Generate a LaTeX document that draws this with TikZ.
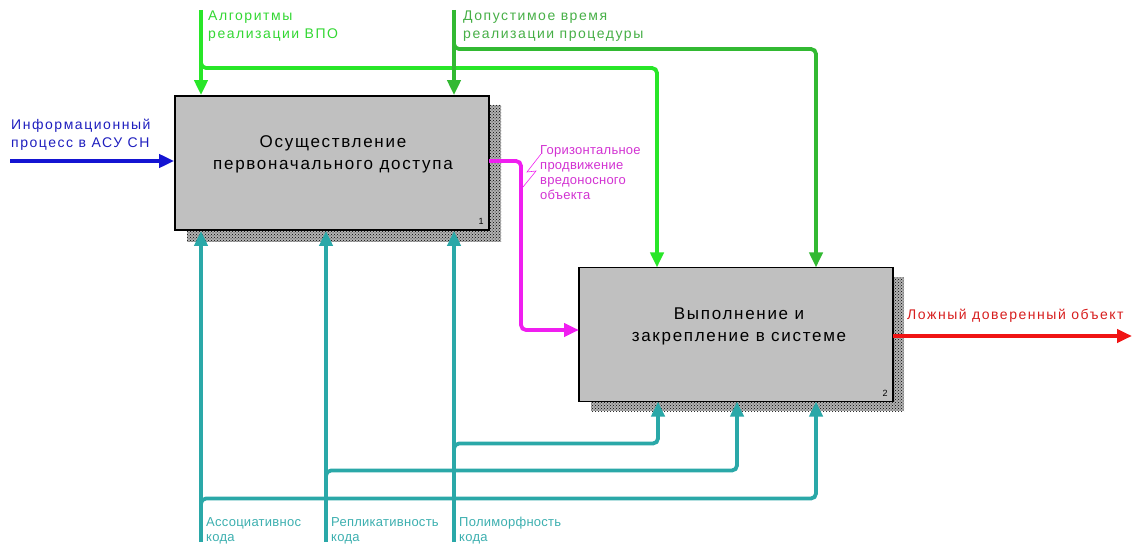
\documentclass[tikz,border=0pt]{standalone}
\usepackage{fontspec}
\setmainfont{Liberation Sans}
\newfontfamily\boxfont[LetterSpace=10]{Liberation Sans}
\newfontfamily\lblfont[LetterSpace=11]{Liberation Sans}
\newfontfamily\smallfont[LetterSpace=2]{Liberation Sans}
\usetikzlibrary{arrows.meta,patterns}
\definecolor{cgreenA}{RGB}{40,230,40}
\definecolor{cgreenB}{RGB}{50,185,50}
\definecolor{tgreenA}{RGB}{50,215,50}
\definecolor{tgreenB}{RGB}{70,175,70}
\definecolor{cteal}{RGB}{42,168,168}
\definecolor{tteal}{RGB}{60,175,175}
\definecolor{cblue}{RGB}{20,20,210}
\definecolor{tblue}{RGB}{30,30,190}
\definecolor{cmag}{RGB}{240,30,240}
\definecolor{tmag}{RGB}{210,50,210}
\definecolor{cred}{RGB}{240,20,20}
\definecolor{tred}{RGB}{215,30,30}
\definecolor{boxgray}{RGB}{192,192,192}
\tikzset{
  tip/.style={-{Triangle[length=15pt,width=13pt]}},
  actbox/.style={draw=black, line width=1.6pt, fill=boxgray, minimum width=314pt, minimum height=134pt, inner sep=0pt},
  conn/.style={line width=3.8pt, rounded corners=5pt, tip},
  plain/.style={line width=3.8pt, rounded corners=5pt},
  lbl/.style={anchor=west, inner sep=0pt, font=\lblfont\fontsize{14}{18}\selectfont, align=left},
  slbl/.style={anchor=west, inner sep=0pt, font=\smallfont\fontsize{13}{15}\selectfont, align=left},
  boxtxt/.style={inner sep=0pt, font=\boxfont\fontsize{17}{22}\selectfont, align=center},
  numtxt/.style={inner sep=0pt, font=\fontsize{9}{10}\selectfont},
  shadowfill/.style={pattern=crosshatch dots, pattern color=black}
}
\begin{document}
\begin{tikzpicture}[x=1pt,y=-1pt]
\useasboundingbox (0,0) rectangle (1134,545);
% shadows
\fill[black!30] (187,105) rectangle (501,242);
\fill[shadowfill] (187,105) rectangle (501,242);
\fill[black!30] (591,277) rectangle (904,411);
\fill[shadowfill] (591,277) rectangle (904,411);
% boxes
\node[actbox] (b1) at (332,163) {};
\node[actbox] (b2) at (736,334.5) {};
\node[boxtxt] (t1) at (333,154) {Осуществление\\первоначального доступа};
\node[boxtxt] (t2) at (739,326) {Выполнение и\\закрепление в системе};
\node[numtxt] (n1) at (481,221) {1};
\node[numtxt] (n2) at (885,393) {2};
% free-end coordinates
\coordinate (gA) at (201,10);
\coordinate (gB) at (454,10);
\coordinate (bl) at (10,161);
\coordinate (rd) at (1132,336);
\coordinate (tA) at (201,542);
\coordinate (tR) at (326,542);
\coordinate (tP) at (454,542);
% green controls
\draw[conn, cgreenA] (gA) -- (gA |- b1.north);
\draw[plain, cgreenA, tip] (201,58) |- (657,68) -- (657,267.5);
\draw[conn, cgreenB] (gB) -- (gB |- b1.north);
\draw[plain, cgreenB, tip] (454,40) |- (816,49) -- (816,267.5);
\node[lbl, tgreenA] (lA) at (208,26.5) {Алгоритмы\\реализации ВПО};
\node[lbl, tgreenB] (lB) at (463,26.5) {Допустимое время\\реализации процедуры};
% input
\draw[conn, cblue] (bl) -- (bl -| b1.west);
\node[lbl, tblue] (lbl1) at (11,134.5) {Информационный\\процесс в АСУ СН};
% magenta
\draw[conn, cmag] (489,161) -- (521,161) -- (521,330) -- (579,330);
\node[slbl, tmag] (lm) at (540,173) {Горизонтальное\\продвижение\\вредоносного\\объекта};
\draw[cmag, line width=0.6pt] (541,154) -- (527,172) -- (536,171) -- (523,187);
% output
\draw[conn, cred] (893,336) -- (rd);
\node[lbl, tred] (lr) at (907,316) {Ложный доверенный объект};
% teal mechanisms
\draw[conn, cteal] (tA) -- (tA |- b1.south);
\draw[conn, cteal] (tR) -- (tR |- b1.south);
\draw[conn, cteal] (tP) -- (tP |- b1.south);
\draw[plain, cteal, tip] (454,452) |- (658,443.5) -- (658,401.5);
\draw[plain, cteal, tip] (326,480) |- (737,470.5) -- (737,401.5);
\draw[plain, cteal, tip] (201,508) |- (816,498.5) -- (816,401.5);
\node[slbl, tteal] (lt1) at (206,531) {Ассоциативнос\\кода};
\node[slbl, tteal] (lt2) at (331,531) {Репликативность\\кода};
\node[slbl, tteal] (lt3) at (459,531) {Полиморфность\\кода};
\end{tikzpicture}
\end{document}
